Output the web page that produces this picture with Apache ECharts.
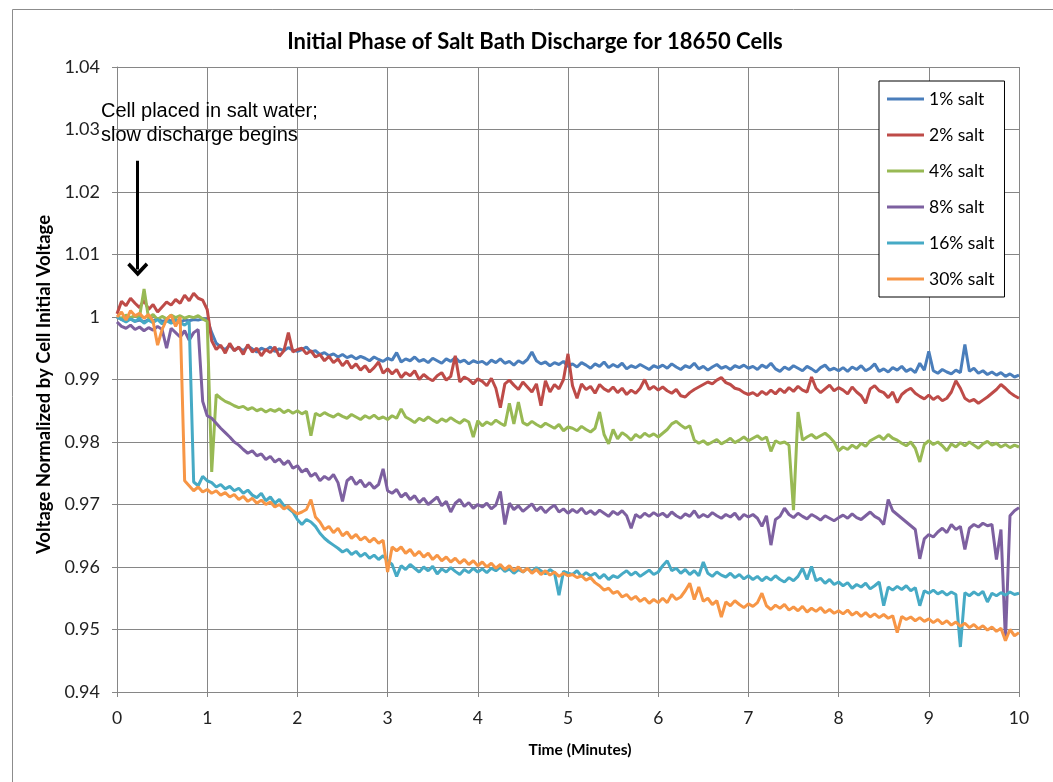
<!DOCTYPE html>
<html>
<head>
<meta charset="utf-8">
<script src="https://cdn.jsdelivr.net/npm/echarts@6/dist/echarts.min.js"></script>
<style>
  html, body { margin: 0; padding: 0; background: #fff; }
  #main { width: 1053px; height: 782px; }
</style>
</head>
<body>
<div id="main"></div>
<script>
// sample grid: one reading every 0.05 minute, 0 .. 10
var times = [];
for (var i = 0; i <= 200; i++) times.push(Math.round(i * 5) / 100);

var seriesNames = ['1% salt', '2% salt', '4% salt', '8% salt', '16% salt', '30% salt'];
var seriesColors = ['#4a7ebb', '#be4b48', '#98b954', '#7d60a0', '#46aac5', '#f79646'];

var salt1 = [
  1.0000, 0.9996, 0.9994, 0.9997, 0.9993, 0.9995, 0.9992, 0.9996, 0.9994, 0.9997, 0.9993, 0.9995, 0.9994, 0.9996, 0.9992, 0.9995, 0.9994, 0.9996, 0.9995, 0.9997, 0.9996,
  0.9975, 0.9958,
  0.9952, 0.9948, 0.9955, 0.9947, 0.9951, 0.9946, 0.9953, 0.9949, 0.9944, 0.9950, 0.9947, 0.9952, 0.9945, 0.9949, 0.9946, 0.9951, 0.9947, 0.9945,
  0.9948, 0.9952, 0.9944, 0.9946, 0.9940, 0.9943, 0.9938, 0.9941, 0.9936, 0.9940, 0.9935, 0.9938, 0.9933, 0.9937, 0.9934, 0.9930, 0.9936, 0.9932, 0.9929, 0.9934,
  0.9931, 0.9943, 0.9928, 0.9933, 0.9930, 0.9936, 0.9929, 0.9932, 0.9927, 0.9934, 0.9930, 0.9926, 0.9933, 0.9929, 0.9935, 0.9928, 0.9931, 0.9925, 0.9930, 0.9927,
  0.9929, 0.9924, 0.9931, 0.9927, 0.9933, 0.9926, 0.9929, 0.9923, 0.9930, 0.9926, 0.9932, 0.9944, 0.9930, 0.9925, 0.9928, 0.9922, 0.9927, 0.9924, 0.9929, 0.9921,
  0.9925, 0.9920, 0.9927, 0.9923, 0.9918, 0.9925, 0.9921, 0.9928, 0.9919, 0.9924, 0.9920, 0.9926, 0.9917, 0.9922, 0.9919, 0.9924, 0.9920, 0.9916, 0.9922, 0.9919,
  0.9923, 0.9918, 0.9925, 0.9920, 0.9916, 0.9922, 0.9919, 0.9926, 0.9917, 0.9921, 0.9915, 0.9920, 0.9924, 0.9918, 0.9921, 0.9916, 0.9922, 0.9919, 0.9923, 0.9918,
  0.9921, 0.9916, 0.9923, 0.9919, 0.9926, 0.9917, 0.9913, 0.9920, 0.9916, 0.9922, 0.9918, 0.9914, 0.9921, 0.9917, 0.9912, 0.9919, 0.9923, 0.9915, 0.9918, 0.9914,
  0.9919, 0.9913, 0.9920, 0.9916, 0.9922, 0.9914, 0.9918, 0.9925, 0.9913, 0.9917, 0.9912, 0.9919, 0.9915, 0.9921, 0.9913, 0.9917, 0.9911, 0.9926, 0.9915, 0.9945,
  0.9914, 0.9910, 0.9916, 0.9912, 0.9909, 0.9915, 0.9911, 0.9956, 0.9913, 0.9918, 0.9910, 0.9914, 0.9908, 0.9912, 0.9907, 0.9911, 0.9905, 0.9909, 0.9904, 0.9907
];

var salt2 = [
  1.0005, 1.0025, 1.0018, 1.0030, 1.0022, 1.0015, 1.0027, 1.0012, 1.0020, 1.0008, 1.0016, 1.0024, 1.0019, 1.0028, 1.0022, 1.0035, 1.0026, 1.0038, 1.0030, 1.0027, 1.0012,
  0.9962, 0.9948,
  0.9955, 0.9942, 0.9958, 0.9946, 0.9952, 0.9940, 0.9956, 0.9944, 0.9950, 0.9938, 0.9948, 0.9943, 0.9952, 0.9937, 0.9946, 0.9975, 0.9944, 0.9948,
  0.9950, 0.9941, 0.9946, 0.9936, 0.9940, 0.9930, 0.9937, 0.9927, 0.9933, 0.9922, 0.9930, 0.9918, 0.9925, 0.9915, 0.9922, 0.9912, 0.9919, 0.9928, 0.9910, 0.9917,
  0.9909, 0.9916, 0.9903, 0.9911, 0.9906, 0.9914, 0.9900, 0.9908, 0.9902, 0.9898, 0.9906, 0.9911, 0.9899, 0.9905, 0.9938, 0.9896, 0.9904, 0.9900, 0.9893, 0.9901,
  0.9897, 0.9890, 0.9902, 0.9886, 0.9855, 0.9893, 0.9899, 0.9891, 0.9884, 0.9896, 0.9888, 0.9880, 0.9893, 0.9858, 0.9898, 0.9880, 0.9892, 0.9885, 0.9900, 0.9941,
  0.9890, 0.9870, 0.9893, 0.9884, 0.9889, 0.9878, 0.9892, 0.9885, 0.9881, 0.9888, 0.9879, 0.9886, 0.9876, 0.9883, 0.9878, 0.9886, 0.9900, 0.9884, 0.9889, 0.9883,
  0.9888, 0.9882, 0.9878, 0.9884, 0.9874, 0.9872, 0.9879, 0.9884, 0.9888, 0.9892, 0.9896, 0.9893, 0.9899, 0.9903, 0.9895, 0.9892, 0.9886, 0.9884, 0.9879, 0.9876,
  0.9879, 0.9874, 0.9881, 0.9876, 0.9883, 0.9877, 0.9885, 0.9879, 0.9887, 0.9881, 0.9889, 0.9883, 0.9880, 0.9904, 0.9886, 0.9879, 0.9885, 0.9891, 0.9882, 0.9887,
  0.9883, 0.9877, 0.9888, 0.9880, 0.9874, 0.9862, 0.9885, 0.9890, 0.9882, 0.9879, 0.9871, 0.9880, 0.9863, 0.9876, 0.9882, 0.9886, 0.9878, 0.9873, 0.9869, 0.9875,
  0.9868, 0.9873, 0.9866, 0.9870, 0.9880, 0.9898, 0.9886, 0.9870, 0.9865, 0.9868, 0.9862, 0.9867, 0.9872, 0.9878, 0.9884, 0.9892, 0.9886, 0.9879, 0.9874, 0.9870
];

var salt4 = [
  1.0000, 0.9998, 1.0003, 0.9999, 1.0002, 1.0000, 1.0045, 0.9998, 1.0004, 0.9996, 1.0001, 0.9997, 1.0003, 0.9999, 1.0002, 0.9998, 1.0001, 0.9999, 1.0002, 0.9997, 0.9993,
  0.9752,
  0.9876, 0.9870, 0.9865, 0.9862, 0.9858, 0.9855, 0.9857, 0.9852, 0.9855, 0.9850, 0.9853, 0.9848, 0.9852, 0.9849, 0.9853, 0.9847, 0.9851, 0.9846, 0.9850,
  0.9845, 0.9849, 0.9810, 0.9846, 0.9842, 0.9847, 0.9843, 0.9840, 0.9845, 0.9841, 0.9838, 0.9844, 0.9840, 0.9836, 0.9842, 0.9838, 0.9843, 0.9837, 0.9840, 0.9836,
  0.9842, 0.9838, 0.9853, 0.9840, 0.9836, 0.9831, 0.9838, 0.9834, 0.9840, 0.9835, 0.9831, 0.9837, 0.9833, 0.9839, 0.9834, 0.9830, 0.9836, 0.9832, 0.9808, 0.9834,
  0.9826, 0.9832, 0.9828, 0.9835, 0.9830, 0.9826, 0.9862, 0.9829, 0.9864, 0.9831, 0.9827, 0.9833, 0.9828, 0.9824, 0.9830, 0.9826, 0.9822, 0.9828, 0.9818, 0.9824,
  0.9822, 0.9818, 0.9825, 0.9820, 0.9816, 0.9822, 0.9848, 0.9812, 0.9797, 0.9820, 0.9805, 0.9815, 0.9810, 0.9803, 0.9812, 0.9807, 0.9814, 0.9809, 0.9813, 0.9808,
  0.9814, 0.9820, 0.9829, 0.9833, 0.9827, 0.9822, 0.9826, 0.9803, 0.9798, 0.9802, 0.9796, 0.9800, 0.9804, 0.9797, 0.9801, 0.9806, 0.9799, 0.9803, 0.9808, 0.9802,
  0.9806, 0.9810, 0.9804, 0.9808, 0.9785, 0.9802, 0.9798, 0.9800, 0.9795, 0.9691, 0.9848, 0.9803, 0.9808, 0.9812, 0.9806, 0.9810, 0.9814, 0.9808, 0.9800, 0.9786,
  0.9792, 0.9788, 0.9795, 0.9790, 0.9798, 0.9793, 0.9802, 0.9806, 0.9810, 0.9804, 0.9812, 0.9806, 0.9803, 0.9798, 0.9794, 0.9800, 0.9790, 0.9768, 0.9796, 0.9802,
  0.9796, 0.9800, 0.9794, 0.9786, 0.9797, 0.9792, 0.9799, 0.9794, 0.9800, 0.9795, 0.9790, 0.9797, 0.9801, 0.9795, 0.9798, 0.9792, 0.9796, 0.9791, 0.9795, 0.9792
];

var salt8 = [
  0.9992, 0.9985, 0.9982, 0.9987, 0.9980, 0.9984, 0.9978, 0.9983, 0.9979, 0.9985, 0.9980, 0.9950, 0.9982, 0.9975, 0.9968, 0.9978, 0.9963, 0.9975, 0.9980,
  0.9865, 0.9842,
  0.9838, 0.9830, 0.9822, 0.9815, 0.9808, 0.9800, 0.9795, 0.9788, 0.9782, 0.9786, 0.9778, 0.9781, 0.9772, 0.9777, 0.9768, 0.9773, 0.9764, 0.9770, 0.9758, 0.9762,
  0.9752, 0.9757, 0.9745, 0.9750, 0.9738, 0.9745, 0.9740, 0.9748, 0.9735, 0.9705, 0.9738, 0.9744, 0.9732, 0.9739, 0.9728, 0.9735, 0.9726, 0.9732, 0.9757, 0.9722,
  0.9718, 0.9724, 0.9712, 0.9718, 0.9708, 0.9714, 0.9703, 0.9710, 0.9700, 0.9706, 0.9712, 0.9698, 0.9705, 0.9688, 0.9702, 0.9708, 0.9697, 0.9703, 0.9694, 0.9700,
  0.9696, 0.9702, 0.9693, 0.9699, 0.9721, 0.9668, 0.9702, 0.9692, 0.9698, 0.9689, 0.9695, 0.9701, 0.9690, 0.9696, 0.9687, 0.9694, 0.9699, 0.9688, 0.9693, 0.9686,
  0.9692, 0.9687, 0.9694, 0.9685, 0.9690, 0.9684, 0.9691, 0.9686, 0.9681, 0.9689, 0.9684, 0.9690, 0.9682, 0.9662, 0.9684, 0.9679, 0.9686, 0.9681, 0.9687, 0.9682,
  0.9686, 0.9680, 0.9688, 0.9682, 0.9678, 0.9685, 0.9681, 0.9690, 0.9679, 0.9684, 0.9680, 0.9687, 0.9682, 0.9678, 0.9684, 0.9680, 0.9686, 0.9676, 0.9684, 0.9680,
  0.9684, 0.9678, 0.9665, 0.9682, 0.9635, 0.9676, 0.9681, 0.9694, 0.9684, 0.9679, 0.9686, 0.9681, 0.9677, 0.9684, 0.9680, 0.9675, 0.9682, 0.9678, 0.9674, 0.9679,
  0.9683, 0.9678, 0.9685, 0.9679, 0.9676, 0.9682, 0.9688, 0.9681, 0.9677, 0.9668, 0.9708, 0.9690, 0.9684, 0.9678, 0.9672, 0.9666, 0.9660, 0.9613, 0.9645, 0.9652,
  0.9648, 0.9656, 0.9662, 0.9655, 0.9668, 0.9660, 0.9665, 0.9628, 0.9662, 0.9668, 0.9664, 0.9670, 0.9666, 0.9668, 0.9612, 0.9660, 0.9482, 0.9682, 0.9690, 0.9695
];

var salt16 = [
  1.0000, 0.9996, 0.9992, 0.9997, 0.9993, 0.9998, 0.9990, 0.9995, 0.9991, 0.9996, 0.9989, 0.9994, 0.9990, 0.9995, 0.9991, 0.9987, 0.9993,
  0.9736,
  0.9730, 0.9745, 0.9738,
  0.9735, 0.9728, 0.9732, 0.9725, 0.9729, 0.9722, 0.9726, 0.9718, 0.9723, 0.9715, 0.9711, 0.9718, 0.9706, 0.9712, 0.9702, 0.9708, 0.9698, 0.9694, 0.9688, 0.9676,
  0.9668, 0.9676, 0.9672, 0.9665, 0.9654, 0.9646, 0.9640, 0.9635, 0.9630, 0.9624, 0.9628, 0.9620, 0.9625, 0.9617, 0.9622, 0.9614, 0.9619, 0.9612, 0.9618, 0.9610,
  0.9604, 0.9585, 0.9602, 0.9596, 0.9604, 0.9598, 0.9592, 0.9600, 0.9594, 0.9601, 0.9589, 0.9597, 0.9592, 0.9599, 0.9593, 0.9588, 0.9596, 0.9591, 0.9598, 0.9592,
  0.9597, 0.9591, 0.9598, 0.9594, 0.9600, 0.9593, 0.9597, 0.9590, 0.9596, 0.9592, 0.9598, 0.9593, 0.9599, 0.9594, 0.9589, 0.9596, 0.9591, 0.9555, 0.9593, 0.9590,
  0.9588, 0.9594, 0.9585, 0.9591, 0.9586, 0.9590, 0.9582, 0.9588, 0.9580, 0.9586, 0.9583, 0.9589, 0.9594, 0.9587, 0.9592, 0.9585, 0.9590, 0.9595, 0.9588, 0.9592,
  0.9602, 0.9610, 0.9594, 0.9598, 0.9590, 0.9596, 0.9588, 0.9594, 0.9586, 0.9608, 0.9590, 0.9585, 0.9592, 0.9587, 0.9584, 0.9590, 0.9583, 0.9588, 0.9581, 0.9586,
  0.9580, 0.9585, 0.9578, 0.9584, 0.9579, 0.9586, 0.9580, 0.9576, 0.9583, 0.9578, 0.9585, 0.9598, 0.9580, 0.9601, 0.9578, 0.9582, 0.9574, 0.9580, 0.9572, 0.9576,
  0.9570, 0.9575, 0.9566, 0.9572, 0.9568, 0.9574, 0.9565, 0.9570, 0.9576, 0.9538, 0.9568, 0.9563, 0.9569, 0.9564, 0.9570, 0.9562, 0.9567, 0.9538, 0.9562, 0.9558,
  0.9563, 0.9557, 0.9561, 0.9555, 0.9560, 0.9556, 0.9472, 0.9559, 0.9554, 0.9560, 0.9555, 0.9561, 0.9544, 0.9558, 0.9554, 0.9559, 0.9555, 0.9560, 0.9556, 0.9558
];

var salt30 = [
  1.0000, 1.0008, 0.9995, 1.0010, 1.0002, 1.0006, 0.9998, 1.0004, 0.9993, 0.9955, 0.9980, 0.9996, 1.0003, 0.9985, 1.0000,
  0.9738, 0.9730, 0.9722, 0.9728, 0.9720, 0.9724,
  0.9718, 0.9722, 0.9715, 0.9719, 0.9712, 0.9716, 0.9708, 0.9713, 0.9705, 0.9710, 0.9702, 0.9707, 0.9700, 0.9704, 0.9696, 0.9700, 0.9693, 0.9697, 0.9690, 0.9685,
  0.9688, 0.9692, 0.9708, 0.9680, 0.9672, 0.9660, 0.9665, 0.9655, 0.9662, 0.9650, 0.9656, 0.9646, 0.9652, 0.9643, 0.9648, 0.9640, 0.9646, 0.9638, 0.9643, 0.9592,
  0.9632, 0.9626, 0.9632, 0.9622, 0.9628, 0.9618, 0.9625, 0.9616, 0.9622, 0.9612, 0.9619, 0.9610, 0.9616, 0.9608, 0.9614, 0.9606, 0.9612, 0.9604, 0.9610, 0.9602,
  0.9608, 0.9600, 0.9606, 0.9598, 0.9604, 0.9596, 0.9602, 0.9594, 0.9600, 0.9592, 0.9598, 0.9590, 0.9596, 0.9588, 0.9594, 0.9587, 0.9592, 0.9585, 0.9590, 0.9586,
  0.9588, 0.9583, 0.9586, 0.9579, 0.9583, 0.9575, 0.9570, 0.9563, 0.9566, 0.9558, 0.9561, 0.9552, 0.9556, 0.9548, 0.9553, 0.9545, 0.9550, 0.9542, 0.9548, 0.9543,
  0.9550, 0.9543, 0.9556, 0.9548, 0.9552, 0.9562, 0.9574, 0.9548, 0.9568, 0.9545, 0.9550, 0.9540, 0.9546, 0.9520, 0.9544, 0.9538, 0.9546, 0.9540, 0.9535, 0.9541,
  0.9537, 0.9543, 0.9558, 0.9538, 0.9532, 0.9539, 0.9534, 0.9540, 0.9531, 0.9536, 0.9530, 0.9537, 0.9528, 0.9534, 0.9529, 0.9535, 0.9527, 0.9532, 0.9526, 0.9530,
  0.9525, 0.9531, 0.9523, 0.9528, 0.9521, 0.9527, 0.9520, 0.9525, 0.9519, 0.9524, 0.9518, 0.9522, 0.9495, 0.9521, 0.9516, 0.9520, 0.9514, 0.9519, 0.9513, 0.9517,
  0.9511, 0.9516, 0.9509, 0.9514, 0.9507, 0.9512, 0.9505, 0.9510, 0.9503, 0.9508, 0.9501, 0.9506, 0.9499, 0.9504, 0.9497, 0.9502, 0.9482, 0.9500, 0.9490, 0.9495
];

var seriesValues = [salt1, salt2, salt4, salt8, salt16, salt30];

// annotation arrow (time, normalized voltage)
var arrowFrom = [0.23, 1.0250];
var arrowTo = [0.23, 1.0076];

var chart = echarts.init(document.getElementById('main'));

var series = seriesNames.map(function (name, k) {
  var s = {
    name: name,
    type: 'line',
    symbol: 'none',
    showSymbol: false,
    color: seriesColors[k],
    lineStyle: { width: 3, color: seriesColors[k] },
    data: times.map(function (t, i) { return [t, seriesValues[k][i]]; })
  };
  if (k === 0) {
    s.markLine = {
      silent: true,
      symbol: ['none', 'path://M10,0 L20,10 L17.6,12.4 L10,4.8 L2.4,12.4 L0,10 Z'],
      symbolSize: [21, 14],
      label: { show: false },
      lineStyle: { color: '#000', width: 3, type: 'solid' },
      data: [[{ coord: arrowFrom }, { coord: arrowTo }]]
    };
  }
  return s;
});

var axisGray = '#868686';

var option = {
  animation: false,
  backgroundColor: '#fff',
  title: {
    text: 'Initial Phase of Salt Bath Discharge for 18650 Cells',
    left: 530,
    textAlign: 'center',
    top: 26,
    textStyle: { fontFamily: 'Lato', fontWeight: 'bold', fontSize: 22, color: '#000' }
  },
  grid: { left: 117, right: 34, top: 67, bottom: 90 },
  legend: {
    orient: 'vertical',
    left: 879,
    top: 81,
    padding: [9, 10, 9, 8],
    itemGap: 18,
    itemWidth: 37,
    itemHeight: 3,
    icon: 'rect',
    borderColor: '#000',
    borderWidth: 1,
    backgroundColor: '#fff',
    textStyle: { fontFamily: 'Lato', fontSize: 17.5, color: '#000', lineHeight: 18 },
    data: seriesNames
  },
  xAxis: {
    type: 'value',
    min: 0,
    max: 10,
    interval: 1,
    name: 'Time (Minutes)',
    nameLocation: 'middle',
    nameGap: 50,
    nameTextStyle: { fontFamily: 'Lato', fontWeight: 'bold', fontSize: 15.5, color: '#000', padding: [0, 0, 0, 24] },
    axisLine: { lineStyle: { color: axisGray, width: 1 } },
    axisTick: { show: true, length: 5, inside: false, lineStyle: { color: axisGray } },
    axisLabel: { fontFamily: 'Lato', fontSize: 17.5, color: '#222', margin: 17 },
    splitLine: { show: true, lineStyle: { color: axisGray, width: 1 } }
  },
  yAxis: {
    type: 'value',
    min: 0.94,
    max: 1.04,
    interval: 0.01,
    name: 'Voltage Normalized by Cell Initial Voltage',
    nameLocation: 'middle',
    nameGap: 62,
    nameRotate: 90,
    nameTextStyle: { fontFamily: 'Lato', fontWeight: 'bold', fontSize: 18.5, color: '#000', padding: [0, 10, 0, 0] },
    axisLine: { show: true, lineStyle: { color: axisGray, width: 1 } },
    axisTick: { show: true, length: 5, lineStyle: { color: axisGray } },
    axisLabel: {
      fontFamily: 'Lato', fontSize: 18, color: '#222', margin: 17,
      formatter: function (v) { return String(Math.round(v * 100) / 100); }
    },
    splitLine: { show: true, lineStyle: { color: axisGray, width: 1 } }
  },
  graphic: [
    {
      type: 'rect',
      left: 10,
      top: 7,
      shape: { width: 1100, height: 900 },
      style: { fill: 'none', stroke: '#8c8c8c', lineWidth: 1 },
      silent: true,
      z: -10
    },
    {
      type: 'text',
      left: 101,
      top: 99,
      style: {
        text: 'Cell placed in salt water;\nslow discharge begins',
        font: '20px "Liberation Sans", Arial, sans-serif',
        lineHeight: 24,
        fill: '#000'
      },
      z: 100
    }
  ],
  series: series
};

chart.setOption(option);
</script>
</body>
</html>
